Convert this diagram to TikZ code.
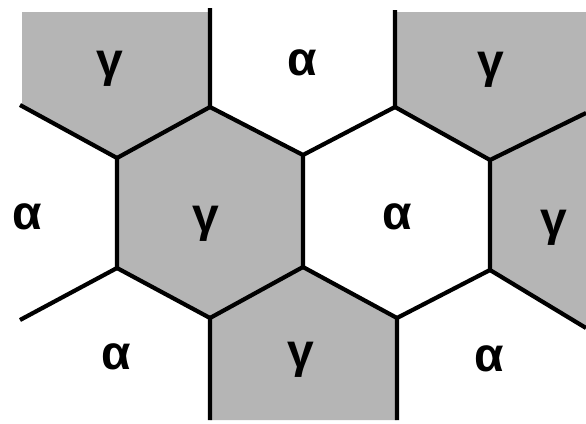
\documentclass[tikz,border=0pt]{standalone}
\usepackage{fontspec}
\newfontfamily\lblfont{Liberation Sans}
\begin{document}
\begin{tikzpicture}[x=1pt,y=-1pt,
  wall/.style={line width=4.2pt, black, line join=miter},
  grain/.style={fill=black!29},
  lbl/.style={inner sep=0pt, font=\lblfont\bfseries\fontsize{48}{48}\selectfont},
  glbl/.style={inner sep=0pt, font=\lblfont\bfseries\fontsize{48}{48}\selectfont}]
\fill[white] (0,0) rectangle (586,423);
\useasboundingbox (0,0) rectangle (586,423);
% vertices
\coordinate (A) at (210,107);
\coordinate (B) at (117,158);
\coordinate (C) at (395,107);
\coordinate (D) at (303,155);
\coordinate (E) at (490,160);
\coordinate (F) at (117,268);
\coordinate (G) at (210,318);
\coordinate (H) at (303,267);
\coordinate (I) at (397,318);
\coordinate (J) at (490,270);
% free ends
\coordinate (At) at (210,8);
\coordinate (Ct) at (395,10);
\coordinate (Bl) at (20,105);
\coordinate (Fl) at (20,320);
\coordinate (Gb) at (210,420);
\coordinate (Ib) at (397,420);
\coordinate (Er) at (586,113);
\coordinate (Jr) at (586,328);
% shaded grains
\fill[grain] (22,12) -- (210,12) -- (A) -- (B) -- (22,106) -- cycle;
\fill[grain] (A) -- (D) -- (H) -- (G) -- (F) -- (B) -- cycle;
\fill[grain] (395,12) -- (586,12) -- (Er) -- (E) -- (C) -- cycle;
\fill[grain] (E) -- (Er) -- (Jr) -- (J) -- cycle;
\fill[grain] (G) -- (H) -- (I) -- (Ib) -- (Gb) -- cycle;
% boundaries
\draw[wall] (At) -- (A) -- (B) -- (Bl);
\draw[wall] (A) -- (D) -- (C) -- (Ct);
\draw[wall] (C) -- (E) -- (Er);
\draw[wall] (B) -- (F) -- (Fl);
\draw[wall] (F) -- (G) -- (Gb);
\draw[wall] (G) -- (H) -- (D);
\draw[wall] (H) -- (I) -- (Ib);
\draw[wall] (I) -- (J) -- (E);
\draw[wall] (J) -- (Jr);
% labels
\node[glbl] (g1) at (110,69) {γ};
\node[lbl] (a1) at (302,63) {α};
\node[glbl] (g2) at (491,70) {γ};
\node[lbl] (a2) at (27,217) {α};
\node[glbl] (g3) at (206,224) {γ};
\node[lbl] (a3) at (397,217) {α};
\node[glbl] (g4) at (554,228) {γ};
\node[lbl] (a4) at (116,357) {α};
\node[glbl] (g5) at (301,360) {γ};
\node[lbl] (a5) at (489,359) {α};
\end{tikzpicture}
\end{document}
